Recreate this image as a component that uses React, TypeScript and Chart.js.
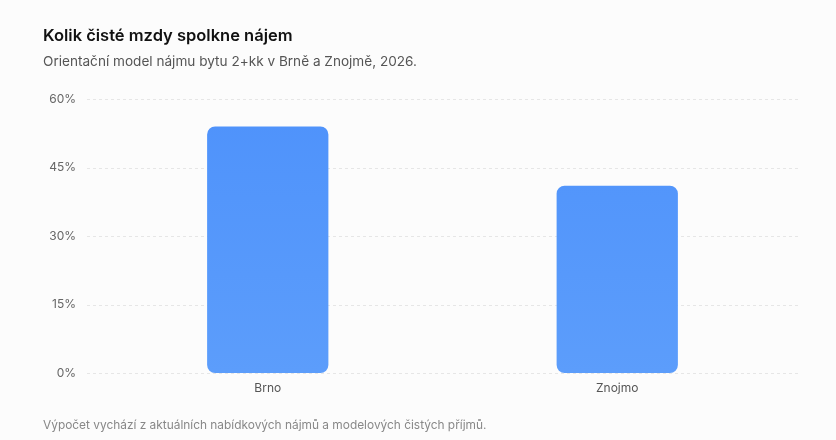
import React, { useEffect, useRef } from "react";
import { Chart, registerables } from "chart.js";

Chart.register(...registerables);

const categories = ["Brno", "Znojmo"];
const rentShare = [54, 41];
const yTicks = { min: 0, max: 60, step: 15 };

const titleText = "Kolik čisté mzdy spolkne nájem";
const subtitleText = "Orientační model nájmu bytu 2+kk v Brně a Znojmě, 2026.";
const footerText = "Výpočet vychází z aktuálních nabídkových nájmů a modelových čistých příjmů.";

const dashGrid = {
  id: "dashGrid",
  beforeDatasetsDraw(chart: any) {
    const y = chart.scales.y;
    const a = chart.chartArea;
    const ctx = chart.ctx;
    ctx.save();
    ctx.setLineDash([3, 3]);
    ctx.strokeStyle = "#E6E6E6";
    ctx.lineWidth = 1;
    y.ticks.forEach((t: any) => {
      const py = Math.round(y.getPixelForValue(t.value)) + 0.5;
      ctx.beginPath();
      ctx.moveTo(a.left - 6, py);
      ctx.lineTo(a.right + 6, py);
      ctx.stroke();
    });
    ctx.restore();
  },
};

export default function App() {
  const ref = useRef<HTMLCanvasElement | null>(null);

  useEffect(() => {
    if (!ref.current) return;
    Chart.defaults.font.family = "Inter";
    const chart = new Chart(ref.current, {
      type: "bar",
      data: {
        labels: categories,
        datasets: [
          {
            data: rentShare,
            backgroundColor: (c: any) => {
              const a = c.chart.chartArea;
              if (!a) return "#4F93FB";
              const g = c.chart.ctx.createLinearGradient(0, a.top, 0, a.bottom);
              g.addColorStop(0, "#4E92FB");
              g.addColorStop(1, "#5C9DFB");
              return g;
            },
            borderRadius: 8,
            borderSkipped: false,
            barPercentage: 0.5,
            categoryPercentage: 0.694,
          },
        ],
      },
      options: {
        animation: false,
        responsive: false,
        maintainAspectRatio: false,
        layout: { padding: { left: 0, right: 44, top: 99, bottom: 37 } },
        plugins: {
          legend: { display: false },
          tooltip: { enabled: false },
          title: { display: false },
        },
        scales: {
          x: {
            grid: { display: false, drawTicks: false },
            border: { display: false },
            ticks: { color: "#555555", font: { size: 12 }, padding: 8 },
            afterFit: (s: any) => {
              s.height = 30;
            },
          },
          y: {
            min: yTicks.min,
            max: yTicks.max,
            grid: { display: false, drawTicks: false },
            border: { display: false },
            ticks: {
              stepSize: yTicks.step,
              color: "#666666",
              font: { size: 12 },
              padding: 17,
              callback: (v: any) => v + "%",
            },
            afterFit: (s: any) => {
              s.width = 93;
            },
          },
        },
      },
      plugins: [dashGrid],
    });
    return () => chart.destroy();
  }, []);

  return (
    <div
      style={{
        position: "fixed",
        left: 0,
        top: 0,
        width: 836,
        height: 440,
        background: "#FCFCFC",
        fontFamily: "Inter, sans-serif",
        overflow: "hidden",
      }}
    >
      <canvas ref={ref} width={836} height={440} style={{ position: "absolute", left: 0, top: 0, width: 836, height: 440 }} />
      <div style={{ position: "absolute", left: 43, top: 24.5, fontSize: 16.5, lineHeight: "20px", fontWeight: 600, color: "#111111", whiteSpace: "nowrap" }}>
        {titleText}
      </div>
      <div style={{ position: "absolute", left: 43, top: 51.5, fontSize: 13.6, lineHeight: "18px", color: "#555555", whiteSpace: "nowrap" }}>
        {subtitleText}
      </div>
      <div style={{ position: "absolute", left: 43, top: 417, fontSize: 11.9, lineHeight: "16px", color: "#888888", whiteSpace: "nowrap" }}>
        {footerText}
      </div>
    </div>
  );
}
